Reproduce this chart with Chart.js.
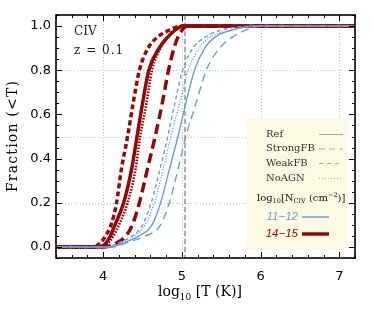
<!DOCTYPE html>
<html>
<head>
<meta charset="utf-8">
<script src="https://cdn.jsdelivr.net/npm/chart.js@4.4.1/dist/chart.umd.min.js"></script>
<style>
  body { margin: 0; background: #fff; }
  canvas { display: block; }
</style>
</head>
<body>
<canvas id="chart" width="374" height="312"></canvas>
<script>
// cumulative fraction levels, and the log10 T at which each curve reaches them
const levels   = [0, 0.02, 0.05, 0.1, 0.2, 0.35, 0.5, 0.65, 0.8, 0.9, 0.95, 0.98, 1];
// 14-15 (high column density)
const hiRef    = [3.95, 4.04, 4.09, 4.15, 4.26, 4.36, 4.43, 4.50, 4.58, 4.71, 4.82, 4.91, 5.01];
const hiStrong = [4.02, 4.18, 4.29, 4.37, 4.46, 4.56, 4.66, 4.75, 4.83, 4.90, 4.95, 5.00, 5.07];
const hiWeak   = [3.86, 3.97, 4.03, 4.10, 4.17, 4.23, 4.31, 4.38, 4.46, 4.57, 4.69, 4.83, 5.00];
const hiNoAGN  = [3.97, 4.07, 4.13, 4.20, 4.31, 4.41, 4.47, 4.55, 4.62, 4.73, 4.82, 4.91, 5.01];
// 11-12 (low column density)
const loRef    = [4.10, 4.27, 4.46, 4.62, 4.73, 4.84, 4.95, 5.05, 5.16, 5.29, 5.42, 5.62, 5.95];
const loStrong = [4.12, 4.30, 4.54, 4.73, 4.84, 4.95, 5.05, 5.18, 5.31, 5.48, 5.64, 5.80, 6.02];
const loWeak   = [4.05, 4.20, 4.37, 4.50, 4.61, 4.72, 4.82, 4.91, 5.01, 5.14, 5.30, 5.48, 5.95];
const loNoAGN  = [4.08, 4.24, 4.40, 4.53, 4.65, 4.76, 4.86, 4.97, 5.08, 5.22, 5.36, 5.60, 5.98];

const xMin = 3.4, xMax = 7.2;
const xTicks = [4, 5, 6, 7];
const yTicks = [0, 0.2, 0.4, 0.6, 0.8, 1.0];
const xGrid = [4, 5, 6, 7];
const yGrid = [0.2, 0.5, 0.8];
const peakT = 5.04;
const runNames = ['Ref', 'StrongFB', 'WeakFB', 'NoAGN'];

const RED = '#8c0a0a';
const BLUE = '#6c9fd2';

function curve(temps) {
  const pts = temps.map((t, i) => ({ x: t, y: levels[i] }));
  return [{ x: xMin, y: 0 }, ...pts, { x: xMax, y: 1 }];
}

function line(temps, color, width, dash) {
  return {
    data: curve(temps),
    borderColor: color,
    borderWidth: width,
    borderDash: dash,
    pointRadius: 0,
    fill: false,
    cubicInterpolationMode: 'monotone',
  };
}

const datasets = [
  line(loWeak, BLUE, 1.4, [4, 3]),
  line(loNoAGN, BLUE, 1.3, [1.2, 1.6]),
  line(loRef, BLUE, 1.4, []),
  line(loStrong, BLUE, 1.4, [8, 5]),
  line(hiWeak, RED, 3.5, [5, 3]),
  line(hiNoAGN, RED, 2.6, [1.6, 1.4]),
  line(hiRef, RED, 3.5, []),
  line(hiStrong, RED, 3.5, [10, 5]),
];

function richText(ctx, x, y, parts) {
  let cx = x;
  for (const p of parts) {
    ctx.font = p.font;
    ctx.fillText(p.t, cx, y + (p.dy || 0));
    cx += ctx.measureText(p.t).width;
  }
}

const decor = {
  id: 'decor',
  beforeDatasetsDraw(chart) {
    const { ctx, chartArea: a, scales: { x, y } } = chart;
    ctx.save();
    ctx.strokeStyle = '#bdbdbd';
    ctx.lineWidth = 1;
    ctx.setLineDash([1, 2]);
    xGrid.forEach((v) => {
      const px = Math.round(x.getPixelForValue(v)) + 0.5;
      ctx.beginPath(); ctx.moveTo(px, a.top); ctx.lineTo(px, a.bottom); ctx.stroke();
    });
    yGrid.forEach((v) => {
      const py = Math.round(y.getPixelForValue(v)) + 0.5;
      ctx.beginPath(); ctx.moveTo(a.left, py); ctx.lineTo(a.right, py); ctx.stroke();
    });
    // peak temperature of CIV
    ctx.strokeStyle = '#a0a0a0';
    ctx.lineWidth = 1.7;
    ctx.setLineDash([5, 3]);
    const pk = x.getPixelForValue(peakT);
    ctx.beginPath(); ctx.moveTo(pk, a.top); ctx.lineTo(pk, a.bottom); ctx.stroke();
    ctx.restore();
  },
  afterDatasetsDraw(chart) {
    const { ctx, chartArea: a, scales: { x, y } } = chart;
    ctx.save();

    // legend box
    ctx.fillStyle = '#fdfae3';
    ctx.fillRect(247, 119, 101, 130);
    ctx.textBaseline = 'middle';
    ctx.fillStyle = '#333';
    ctx.font = '10px "DejaVu Serif"';
    const rowY = [134, 148.5, 163, 178];
    const dashes = [[], [6, 4], [4, 4], [1, 2]];
    runNames.forEach((n, i) => {
      ctx.fillText(n, 266, rowY[i]);
      ctx.strokeStyle = '#aaa';
      ctx.lineWidth = 1;
      ctx.setLineDash(dashes[i]);
      ctx.beginPath(); ctx.moveTo(319, rowY[i] + 0.5); ctx.lineTo(343, rowY[i] + 0.5); ctx.stroke();
    });
    ctx.setLineDash([]);
    ctx.fillStyle = '#111';
    const big = '10px "DejaVu Serif"', sm = '6.5px "DejaVu Serif"';
    richText(ctx, 257, 198, [
      { t: 'log', font: big }, { t: '10', font: sm, dy: 3 },
      { t: '[N', font: big }, { t: 'CIV', font: sm, dy: 3 },
      { t: ' (cm', font: big }, { t: '−2', font: sm, dy: -3 }, { t: ')]', font: big },
    ]);
    ctx.font = 'italic 11.5px "Liberation Sans"';
    ctx.textAlign = 'right';
    ctx.fillStyle = BLUE;
    ctx.fillText('11−12', 298, 217);
    ctx.fillStyle = RED;
    ctx.fillText('14−15', 298, 234);
    ctx.textAlign = 'left';
    ctx.strokeStyle = BLUE; ctx.lineWidth = 1.5;
    ctx.beginPath(); ctx.moveTo(302, 217); ctx.lineTo(329, 217); ctx.stroke();
    ctx.strokeStyle = RED; ctx.lineWidth = 3.5;
    ctx.beginPath(); ctx.moveTo(302, 234); ctx.lineTo(329, 234); ctx.stroke();

    // annotation
    ctx.fillStyle = '#222';
    ctx.font = '12px "DejaVu Serif"';
    ctx.fillText('CIV', 74, 32);
    ctx.letterSpacing = '1px';
    ctx.fillText('z = 0.1', 74, 51);
    ctx.letterSpacing = '0px';

    // frame and inward ticks
    ctx.strokeStyle = '#000';
    ctx.lineWidth = 1.6;
    ctx.strokeRect(a.left, a.top, a.right - a.left, a.bottom - a.top);
    ctx.lineWidth = 1;
    for (let i = 0; i <= 19; i++) {
      const v = xMin + i * 0.2;
      const px = Math.round(x.getPixelForValue(v)) + 0.5;
      const len = Math.abs(v - Math.round(v)) < 1e-6 ? 6 : 3;
      ctx.beginPath();
      ctx.moveTo(px, a.bottom); ctx.lineTo(px, a.bottom - len);
      ctx.moveTo(px, a.top); ctx.lineTo(px, a.top + len);
      ctx.stroke();
    }
    for (let i = 0; i <= 22; i++) {
      const v = -0.05 + i * 0.05;
      const py = Math.round(y.getPixelForValue(v)) + 0.5;
      const major = Math.abs(v * 5 - Math.round(v * 5)) < 1e-6;
      const len = major ? 6 : 3;
      ctx.beginPath();
      ctx.moveTo(a.left, py); ctx.lineTo(a.left + len, py);
      ctx.moveTo(a.right, py); ctx.lineTo(a.right - len, py);
      ctx.stroke();
    }

    // axis titles
    ctx.fillStyle = '#000';
    ctx.textBaseline = 'alphabetic';
    const tf = '14px "DejaVu Serif"', ts = '9px "DejaVu Serif"';
    richText(ctx, 158, 296, [
      { t: 'log', font: tf }, { t: '10', font: ts, dy: 4 }, { t: ' [T (K)]', font: tf },
    ]);
    ctx.translate(17, 136);
    ctx.rotate(-Math.PI / 2);
    ctx.font = tf;
    ctx.letterSpacing = '1.2px';
    ctx.textAlign = 'center';
    ctx.fillText('Fraction (<T)', 0, 0);
    ctx.restore();
  },
};

new Chart(document.getElementById('chart'), {
  type: 'line',
  data: { datasets },
  plugins: [decor],
  options: {
    responsive: false,
    animation: false,
    layout: { padding: { left: 0, top: 15, right: 19, bottom: 0 } },
    plugins: { legend: { display: false }, tooltip: { enabled: false } },
    scales: {
      x: {
        type: 'linear',
        min: xMin,
        max: xMax,
        grid: { display: false, drawTicks: false },
        border: { display: false },
        afterBuildTicks: (s) => { s.ticks = xTicks.map((v) => ({ value: v })); },
        afterFit: (s) => { s.height = 54; },
        ticks: { color: '#000', padding: 11, maxRotation: 0, font: { family: 'DejaVu Sans', size: 13 } },
      },
      y: {
        min: -0.05,
        max: 1.05,
        grid: { display: false, drawTicks: false },
        border: { display: false },
        afterBuildTicks: (s) => { s.ticks = yTicks.map((v) => ({ value: v })); },
        afterFit: (s) => { s.width = 56; },
        ticks: {
          color: '#000',
          padding: 5,
          font: { family: 'DejaVu Sans', size: 13 },
          callback: (v) => v.toFixed(1),
        },
      },
    },
  },
});
</script>
</body>
</html>
